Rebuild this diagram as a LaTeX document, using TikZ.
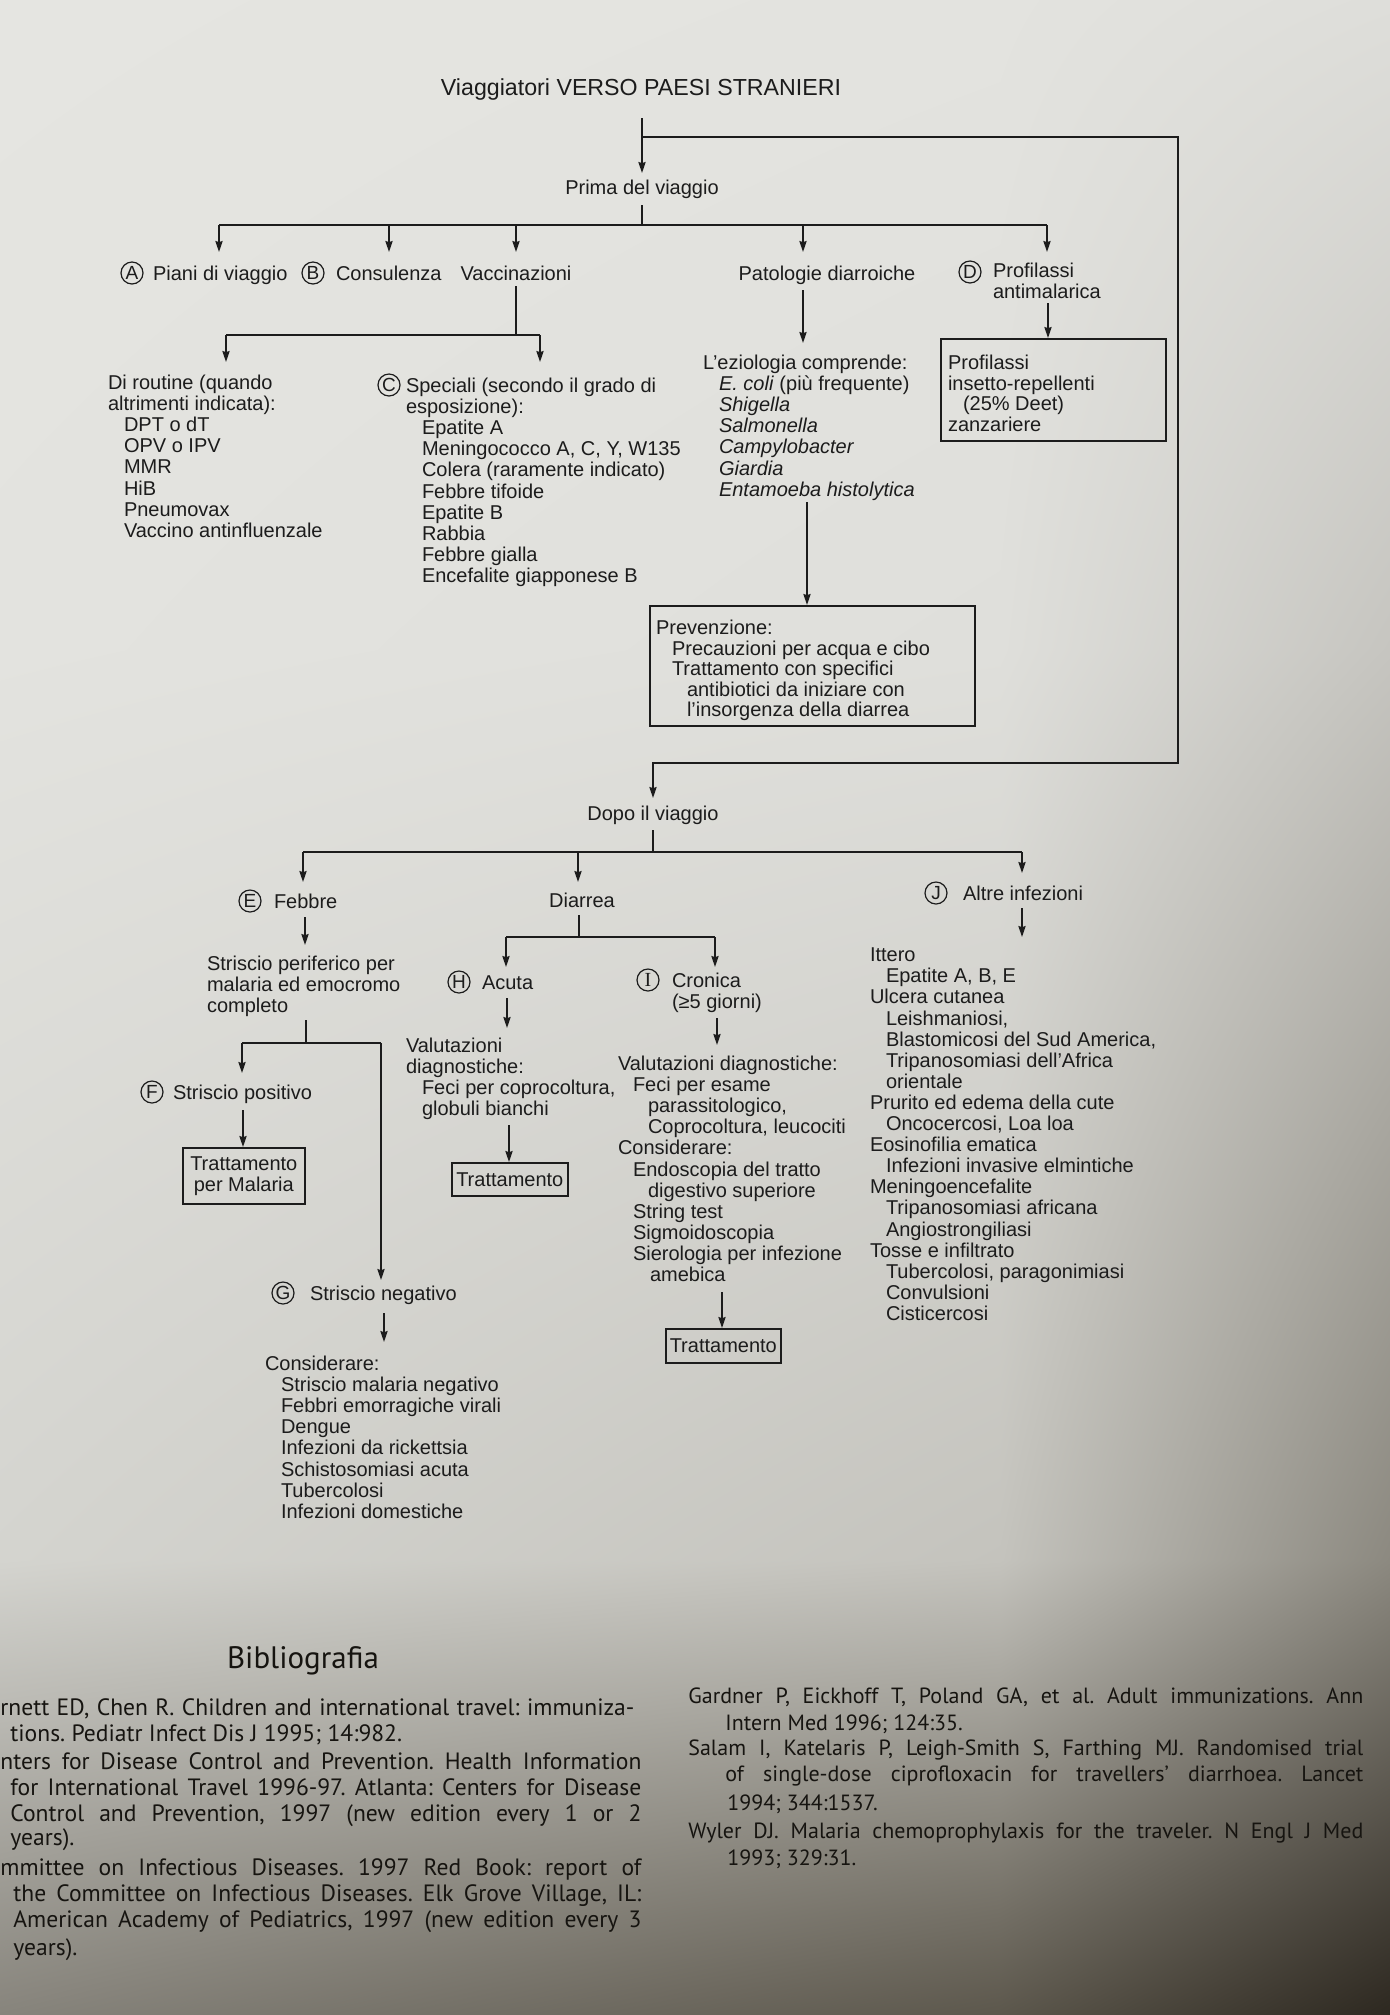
\documentclass[tikz,border=0pt]{standalone}
\usepackage{fontspec}
\setmainfont{Liberation Sans}
\newfontfamily\bibfont{PT Sans}
\newfontfamily\serfont{Liberation Serif}
\usetikzlibrary{arrows.meta,shadings}
\frenchspacing
\definecolor{ink}{RGB}{28,28,28}
\definecolor{bibink}{RGB}{22,20,16}
\definecolor{g00}{RGB}{229,229,225}
\definecolor{g10}{RGB}{227,227,223}
\definecolor{g20}{RGB}{222,222,218}
\definecolor{g01}{RGB}{227,227,223}
\definecolor{g11}{RGB}{223,223,219}
\definecolor{g21}{RGB}{198,197,192}
\definecolor{g02}{RGB}{212,212,207}
\definecolor{g12}{RGB}{196,195,189}
\definecolor{g22}{RGB}{140,137,128}
\definecolor{g03}{RGB}{135,132,124}
\definecolor{g13}{RGB}{92,87,76}
\definecolor{g23}{RGB}{45,40,32}
\newcommand\dfont{\fontsize{10pt}{10.55pt}\selectfont}
\newcommand\bxfont{\fontsize{10pt}{10.3pt}\selectfont}
\newcommand\indA{\hspace*{8pt}}
\newcommand\indB{\hspace*{15.5pt}}
\begin{document}
\begin{tikzpicture}[x=0.5pt,y=-0.5pt,
  txt/.style={inner sep=0pt, outer sep=0pt, text=ink, font=\dfont},
  blk/.style={txt, anchor=north west, align=left},
  lbl/.style={txt, anchor=base west},
  lblc/.style={txt, anchor=base},
  circ/.style={circle, draw=ink, line width=0.6pt, inner sep=0pt, minimum size=11pt, text=ink, font=\fontsize{9.5pt}{9.5pt}\selectfont},
  conn/.style={draw=ink, line width=0.75pt},
  arr/.style={conn, -{Stealth[length=5.5pt,width=3.6pt,inset=0.6pt]}},
  box/.style={draw=ink, line width=0.8pt, inner sep=0pt, anchor=north west, text=ink, font=\dfont},
  bib/.style={inner sep=0pt, anchor=base west, text=bibink, font=\bibfont\fontsize{11pt}{13pt}\selectfont},
  bibl/.style={bib, font=\bibfont\fontsize{11.8pt}{13pt}\selectfont},
]
\useasboundingbox (0,0) rectangle (1390,2015);
% paper background
\shade[shading=bilinear interpolation, upper left=g00, upper right=g10, lower left=g01, lower right=g11] (0,0) rectangle (1001,651);
\shade[shading=bilinear interpolation, upper left=g10, upper right=g20, lower left=g11, lower right=g21] (1000,0) rectangle (1390,651);
\shade[shading=bilinear interpolation, upper left=g01, upper right=g11, lower left=g02, lower right=g12] (0,650) rectangle (1001,1561);
\shade[shading=bilinear interpolation, upper left=g11, upper right=g21, lower left=g12, lower right=g22] (1000,650) rectangle (1390,1561);
\shade[shading=bilinear interpolation, upper left=g02, upper right=g12, lower left=g03, lower right=g13] (0,1560) rectangle (1001,2015);
\shade[shading=bilinear interpolation, upper left=g12, upper right=g22, lower left=g13, lower right=g23] (1000,1560) rectangle (1390,2015);

% ---------- nodes: before the journey ----------
\node[lblc, font=\fontsize{11.6pt}{13pt}\selectfont] (title) at (641,95) {Viaggiatori VERSO PAESI STRANIERI};
\node[lblc] (prima) at (642,194) {Prima del viaggio};

\node[circ] (cA) at (132,273) {A};
\node[lbl] (piani) at (153,280) {Piani di viaggio};
\node[circ] (cB) at (313,273) {B};
\node[lbl] (cons) at (336,280) {Consulenza};
\node[lblc] (vacc) at (516,280) {Vaccinazioni};
\node[lblc] (pato) at (827,280) {Patologie diarroiche};
\node[circ] (cD) at (970,272) {D};
\node[blk] (prof) at (993,263) {Profilassi\\antimalarica};

\node[blk] (rout) at (108,375) {Di routine (quando\\altrimenti indicata):\\\indA DPT o dT\\\indA OPV o IPV\\\indA MMR\\\indA HiB\\\indA Pneumovax\\\indA Vaccino antinfluenzale};
\node[circ] (cC) at (389,385) {C};
\node[blk] (spec) at (406,378) {Speciali (secondo il grado di\\esposizione):\\\indA Epatite A\\\indA Meningococco A, C, Y, W135\\\indA Colera (raramente indicato)\\\indA Febbre tifoide\\\indA Epatite B\\\indA Rabbia\\\indA Febbre gialla\\\indA Encefalite giapponese B};

\node[blk] (ezio) at (703,355) {L’eziologia comprende:\\\indA\textit{E. coli} (più frequente)\\\indA\textit{Shigella}\\\indA\textit{Salmonella}\\\indA\textit{Campylobacter}\\\indA\textit{Giardia}\\\indA\textit{Entamoeba histolytica}};

\node[box, minimum width=112.5pt, minimum height=51pt] (profbox) at (940,338) {};
\node[blk, font=\bxfont] (proftxt) at (948,355) {Profilassi\\insetto-repellenti\\\hspace*{7.5pt}(25\% Deet)\\zanzariere};

\node[box, minimum width=162.5pt, minimum height=60pt] (prevbox) at (649,605) {};
\node[blk, font=\bxfont] (prevtxt) at (656,620) {Prevenzione:\\\indA Precauzioni per acqua e cibo\\\indA Trattamento con specifici\\\indB antibiotici da iniziare con\\\indB l'insorgenza della diarrea};

% ---------- nodes: after the journey ----------
\node[lblc] (dopo) at (653,820) {Dopo il viaggio};
\node[circ] (cE) at (250,901) {E};
\node[lbl] (febbre) at (274,908) {Febbre};
\node[lblc] (diarrea) at (582,907) {Diarrea};
\node[circ] (cJ) at (936,893) {J};
\node[lbl] (altre) at (963,900) {Altre infezioni};

\node[blk] (strisc) at (207,956) {Striscio periferico per\\malaria ed emocromo\\completo};
\node[circ] (cF) at (152,1092) {F};
\node[lbl] (fpos) at (173,1099) {Striscio positivo};
\node[box, minimum width=61pt, minimum height=28pt, align=center] (malbox) at (182,1147) {Trattamento\\per Malaria};
\node[circ] (cG) at (283,1293) {G};
\node[lbl] (gneg) at (310,1300) {Striscio negativo};
\node[blk] (gcons) at (265,1356) {Considerare:\\\indA Striscio malaria negativo\\\indA Febbri emorragiche virali\\\indA Dengue\\\indA Infezioni da rickettsia\\\indA Schistosomiasi acuta\\\indA Tubercolosi\\\indA Infezioni domestiche};

\node[circ] (cH) at (459,982) {H};
\node[lbl] (acuta) at (482,989) {Acuta};
\node[blk] (hval) at (406,1038) {Valutazioni\\diagnostiche:\\\indA Feci per coprocoltura,\\\indA globuli bianchi};
\node[box, minimum width=58pt, minimum height=16.5pt] (hbox) at (451,1162) {Trattamento};

\node[circ, font=\serfont\fontsize{10pt}{10pt}\selectfont] (cI) at (648,980) {I};
\node[blk] (cron) at (672,973) {Cronica\\(≥5 giorni)};
\node[blk] (ival) at (618,1056) {Valutazioni diagnostiche:\\\hspace*{7.5pt}Feci per esame\\\hspace*{15pt}parassitologico,\\\hspace*{15pt}Coprocoltura, leucociti\\Considerare:\\\hspace*{7.5pt}Endoscopia del tratto\\\hspace*{15pt}digestivo superiore\\\hspace*{7.5pt}String test\\\hspace*{7.5pt}Sigmoidoscopia\\\hspace*{7.5pt}Sierologia per infezione\\\hspace*{16pt}amebica};
\node[box, minimum width=57.5pt, minimum height=17pt] (ibox) at (665,1328) {Trattamento};

\node[blk] (jlist) at (870,948) {Ittero\\\indA Epatite A, B, E\\Ulcera cutanea\\\indA Leishmaniosi,\\\indA Blastomicosi del Sud America,\\\indA Tripanosomiasi dell'Africa\\\indA orientale\\Prurito ed edema della cute\\\indA Oncocercosi, Loa loa\\Eosinofilia ematica\\\indA Infezioni invasive elmintiche\\Meningoencefalite\\\indA Tripanosomiasi africana\\\indA Angiostrongiliasi\\Tosse e infiltrato\\\indA Tubercolosi, paragonimiasi\\\indA Convulsioni\\\indA Cisticercosi};

% ---------- connectors ----------
\coordinate (tA) at (642,118);
\coordinate (tB) at (642,137);
\coordinate (tC) at (642,173);
\coordinate (fA) at (1178,137);
\coordinate (fB) at (1178,763);
\coordinate (fC) at (653,763);
\coordinate (fD) at (653,798);
\draw[arr] (tA) -- (tC);
\draw[arr] (tB) -- (fA) -- (fB) -- (fC) -- (fD);

\coordinate (pA) at (642,205);
\coordinate (pB) at (642,225);
\coordinate (inA) at (219,252);
\coordinate (inB) at (389,252);
\coordinate (inV) at (516,252);
\coordinate (inP) at (803,252);
\coordinate (inD) at (1047,252);
\draw[conn] (pA) -- (pB);
\draw[conn] (inA |- pB) -- (inD |- pB);
\foreach \c in {inA,inB,inV,inP,inD} \draw[arr] (\c |- pB) -- (\c);

\coordinate (vA) at (516,286);
\coordinate (vB) at (516,335);
\coordinate (inR) at (226,362);
\coordinate (inC) at (540,362);
\draw[conn] (vA) -- (vB);
\draw[conn] (inR |- vB) -- (inC |- vB);
\draw[arr] (inR |- vB) -- (inR);
\draw[arr] (inC |- vB) -- (inC);

\coordinate (paA) at (803,290);
\coordinate (inE) at (803,343);
\draw[arr] (paA) -- (inE);
\coordinate (prA) at (1048,303);
\draw[arr] (prA) -- (prA |- profbox.north);
\coordinate (ezA) at (807,502);
\draw[arr] (ezA) -- (ezA |- prevbox.north);

\coordinate (dA) at (653,830);
\coordinate (dB) at (653,852);
\coordinate (inFe) at (303,882);
\coordinate (inDi) at (578,882);
\coordinate (inJ) at (1022,873);
\draw[conn] (dA) -- (dB);
\draw[conn] (inFe |- dB) -- (inJ |- dB);
\foreach \c in {inFe,inDi,inJ} \draw[arr] (\c |- dB) -- (\c);

\coordinate (eA) at (305,917);
\coordinate (inS) at (305,945);
\draw[arr] (eA) -- (inS);
\coordinate (sA) at (306,1020);
\coordinate (sB) at (306,1043);
\coordinate (inF) at (242,1073);
\coordinate (inG) at (381,1280);
\draw[conn] (sA) -- (sB);
\draw[conn] (inF |- sB) -- (inG |- sB);
\draw[arr] (inF |- sB) -- (inF);
\draw[arr] (inG |- sB) -- (inG);
\coordinate (fpA) at (243,1110);
\draw[arr] (fpA) -- (fpA |- malbox.north);
\coordinate (gA) at (384,1313);
\coordinate (inGc) at (384,1342);
\draw[arr] (gA) -- (inGc);

\coordinate (diA) at (579,915);
\coordinate (diB) at (579,937);
\coordinate (inH) at (506,967);
\coordinate (inI) at (715,967);
\draw[conn] (diA) -- (diB);
\draw[conn] (inH |- diB) -- (inI |- diB);
\draw[arr] (inH |- diB) -- (inH);
\draw[arr] (inI |- diB) -- (inI);
\coordinate (hA) at (507,998);
\coordinate (inHv) at (507,1028);
\draw[arr] (hA) -- (inHv);
\coordinate (hvA) at (509,1125);
\draw[arr] (hvA) -- (hvA |- hbox.north);
\coordinate (iA) at (717,1018);
\coordinate (inIv) at (717,1045);
\draw[arr] (iA) -- (inIv);
\coordinate (ivA) at (722,1292);
\draw[arr] (ivA) -- (ivA |- ibox.north);
\coordinate (jA) at (1022,908);
\coordinate (inJl) at (1022,937);
\draw[arr] (jA) -- (inJl);

% ---------- bibliography ----------
\node[bib, anchor=base, font=\bibfont\fontsize{15.5pt}{17pt}\selectfont] (bibtitle) at (303,1668) {Bibliografia};
\node[bibl] (l1) at (0,1715) {\makebox[317pt][s]{rnett ED, Chen R. Children and international travel: immuniza-}};
\node[bibl] (l2) at (10,1741) {tions. Pediatr Infect Dis J 1995; 14:982.};
\node[bibl] (l3) at (0,1769) {\makebox[320.5pt][s]{nters for Disease Control and Prevention. Health Information}};
\node[bibl] (l4) at (10,1795) {\makebox[315.5pt][s]{for International Travel 1996-97. Atlanta: Centers for Disease}};
\node[bibl] (l5) at (10,1821) {\makebox[315.5pt][s]{Control and Prevention, 1997 (new edition every 1 or 2}};
\node[bibl] (l6) at (10,1845) {years).};
\node[bibl] (l7) at (0,1875) {\makebox[320.5pt][s]{mmittee on Infectious Diseases. 1997 Red Book: report of}};
\node[bibl] (l8) at (13,1901) {\makebox[314pt][s]{the Committee on Infectious Diseases. Elk Grove Village, IL:}};
\node[bibl] (l9) at (13,1927) {\makebox[314pt][s]{American Academy of Pediatrics, 1997 (new edition every 3}};
\node[bibl] (l10) at (13,1955) {years).};

\node[bib] (r1) at (688,1703) {\makebox[337.5pt][s]{Gardner P, Eickhoff T, Poland GA, et al. Adult immunizations. Ann}};
\node[bib] (r2) at (725,1730) {Intern Med 1996; 124:35.};
\node[bib] (r3) at (688,1755) {\makebox[337.5pt][s]{Salam I, Katelaris P, Leigh-Smith S, Farthing MJ. Randomised trial}};
\node[bib] (r4) at (725,1781) {\makebox[319pt][s]{of single-dose ciprofloxacin for travellers’ diarrhoea. Lancet}};
\node[bib] (r5) at (727,1810) {1994; 344:1537.};
\node[bib] (r6) at (688,1838) {\makebox[337.5pt][s]{Wyler DJ. Malaria chemoprophylaxis for the traveler. N Engl J Med}};
\node[bib] (r7) at (727,1865) {1993; 329:31.};
\end{tikzpicture}
\end{document}
